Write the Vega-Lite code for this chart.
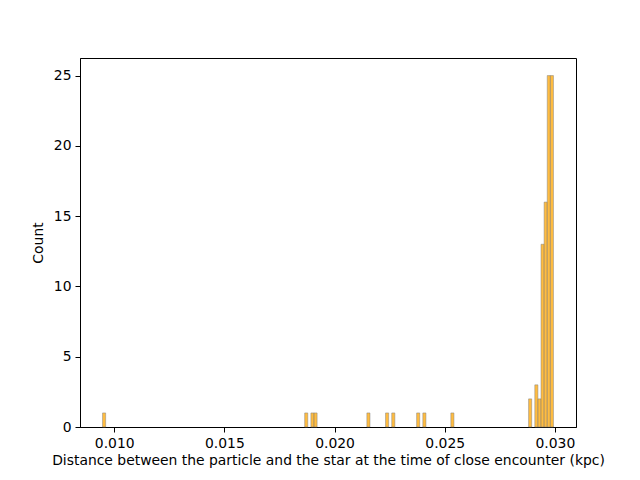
{
  "$schema": "https://vega.github.io/schema/vega-lite/v6.json",
  "width": 496,
  "height": 369,
  "autosize": "none",
  "padding": {"left": 80, "top": 58, "right": 64, "bottom": 53},
  "background": "white",
  "config": {
    "view": {"stroke": "black", "strokeWidth": 1},
    "axis": {
      "labelFont": "DejaVu Sans",
      "titleFont": "DejaVu Sans",
      "labelFontSize": 13.9,
      "titleFontSize": 13.9,
      "titleFontWeight": "normal",
      "labelColor": "black",
      "titleColor": "black",
      "domainColor": "black",
      "tickColor": "black",
      "tickSize": 5,
      "labelPadding": 4,
      "grid": false
    }
  },
  "data": {
    "values": [
      {"start": 0.009469, "end": 0.009610, "count": 1},
      {"start": 0.018644, "end": 0.018785, "count": 1},
      {"start": 0.018926, "end": 0.019067, "count": 1},
      {"start": 0.019067, "end": 0.019208, "count": 1},
      {"start": 0.021467, "end": 0.021608, "count": 1},
      {"start": 0.022314, "end": 0.022455, "count": 1},
      {"start": 0.022596, "end": 0.022737, "count": 1},
      {"start": 0.023725, "end": 0.023866, "count": 1},
      {"start": 0.024007, "end": 0.024148, "count": 1},
      {"start": 0.025278, "end": 0.025419, "count": 1},
      {"start": 0.028807, "end": 0.028948, "count": 2},
      {"start": 0.029089, "end": 0.029230, "count": 3},
      {"start": 0.029230, "end": 0.029371, "count": 2},
      {"start": 0.029371, "end": 0.029512, "count": 13},
      {"start": 0.029512, "end": 0.029654, "count": 16},
      {"start": 0.029654, "end": 0.029795, "count": 25},
      {"start": 0.029795, "end": 0.029936, "count": 25}
    ]
  },
  "mark": {"type": "bar", "fill": "#FFA500", "fillOpacity": 0.75, "stroke": "#7f7f7f", "strokeWidth": 0.6, "strokeOpacity": 0.8},
  "encoding": {
    "x": {
      "field": "start",
      "type": "quantitative",
      "scale": {"domain": [0.008446, 0.030959], "nice": false, "zero": false},
      "axis": {"values": [0.010, 0.015, 0.020, 0.025, 0.030], "format": ".3f", "title": "Distance between the particle and the star at the time of close encounter (kpc)", "titlePadding": 4}
    },
    "x2": {"field": "end"},
    "y": {
      "field": "count",
      "type": "quantitative",
      "scale": {"domain": [0, 26.25], "nice": false},
      "axis": {"values": [0, 5, 10, 15, 20, 25], "title": "Count", "titlePadding": 8}
    },
    "y2": {"datum": 0}
  }
}
